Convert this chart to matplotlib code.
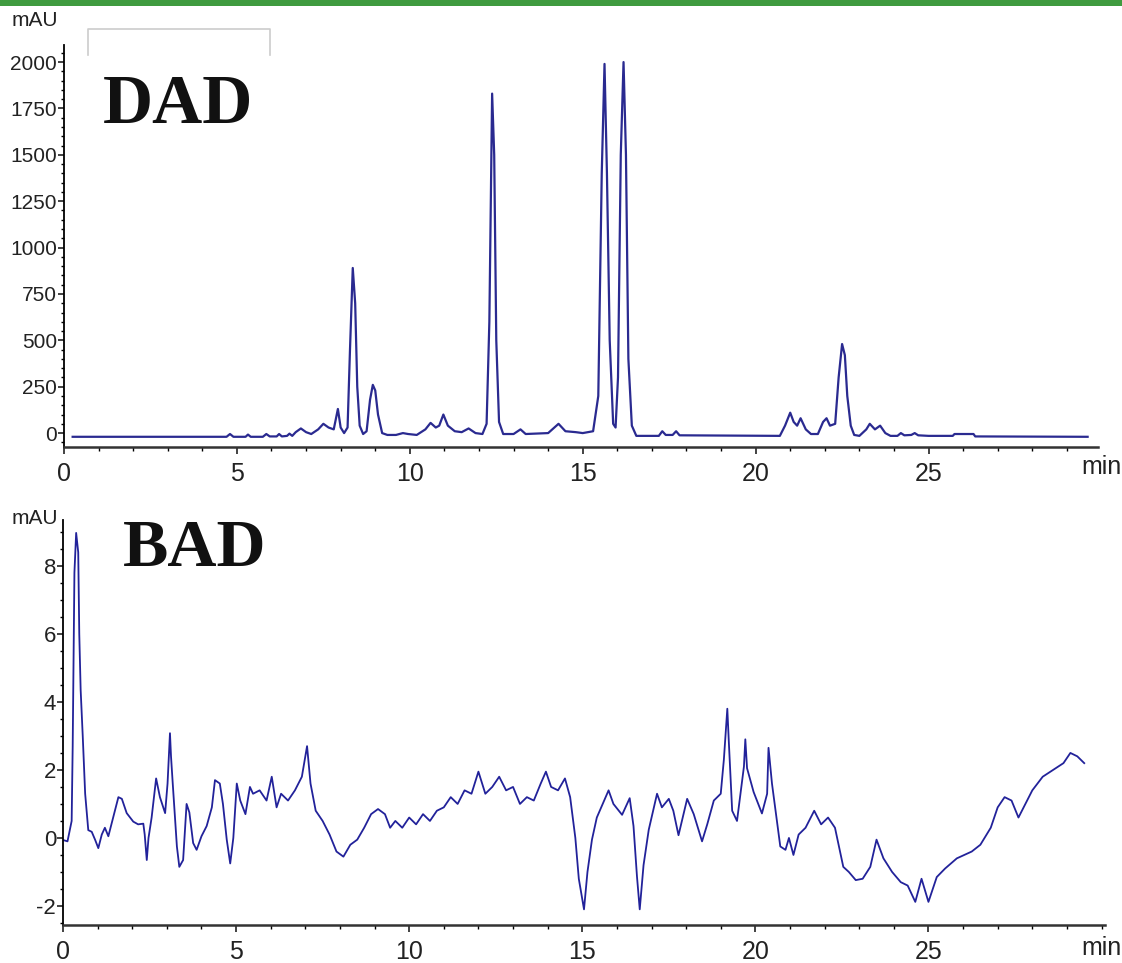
import matplotlib
matplotlib.use("Agg")
from matplotlib import pyplot as plt
from matplotlib.ticker import MultipleLocator, FixedLocator
from matplotlib.patches import Rectangle
from matplotlib.lines import Line2D

# DAD trace (min, mAU)
dad_time = [0.25, 4.7, 4.8, 4.9, 5.25, 5.32, 5.4, 5.75, 5.85, 5.95, 6.15, 6.22, 6.3,
            6.45, 6.52, 6.6, 6.7, 6.85, 7.0, 7.15, 7.35, 7.5, 7.65, 7.8, 7.92, 8.0,
            8.1, 8.2, 8.27, 8.35, 8.42, 8.48, 8.55, 8.65, 8.75, 8.85, 8.93, 9.0,
            9.08, 9.2, 9.35, 9.6, 9.8, 9.95, 10.2, 10.45, 10.6, 10.75, 10.85, 10.97,
            11.1, 11.3, 11.5, 11.7, 11.9, 12.1, 12.22, 12.3, 12.38, 12.44, 12.5,
            12.58, 12.7, 13.0, 13.2, 13.35, 14.0, 14.3, 14.5, 14.8, 15.0, 15.3,
            15.45, 15.55, 15.63, 15.7, 15.78, 15.88, 15.95, 16.02, 16.1, 16.18,
            16.25, 16.32, 16.42, 16.55, 17.2, 17.3, 17.4, 17.6, 17.7, 17.8, 20.7,
            20.85, 21.0, 21.1, 21.2, 21.3, 21.45, 21.6, 21.8, 21.95, 22.05, 22.15,
            22.3, 22.4, 22.5, 22.58, 22.65, 22.75, 22.85, 23.0, 23.2, 23.3, 23.45,
            23.6, 23.75, 23.9, 24.1, 24.2, 24.3, 24.5, 24.6, 24.7, 25.0, 25.7,
            25.75, 26.3, 26.35, 29.6]
dad_mau = [-20, -20, -5, -20, -20, -8, -20, -20, -5, -18, -18, -5, -18,
           -15, -3, -15, 5, 25, 5, -5, 20, 50, 30, 20, 130, 30,
           0, 30, 450, 890, 700, 250, 40, -5, 10, 180, 260, 230,
           100, 0, -10, -10, 0, -5, -10, 20, 55, 30, 40, 100,
           40, 10, 5, 25, 0, -5, 50, 600, 1830, 1500, 500,
           60, -5, -5, 20, -5, 0, 50, 10, 5, 0, 10,
           200, 1400, 1990, 1400, 500, 50, 30, 300, 1500, 2000,
           1500, 400, 40, -15, -15, 10, -10, -10, 10, -12, -15,
           40, 110, 60, 40, 80, 20, -5, -5, 60, 80, 40,
           50, 300, 480, 420, 200, 40, -10, -15, 20, 50, 20,
           40, 0, -15, -15, 0, -12, -10, 0, -12, -15, -15,
           -5, -5, -18, -20]

# BAD trace (min, mAU)
bad_time = [0.0, 0.13, 0.25, 0.28, 0.33, 0.38, 0.44, 0.47, 0.51, 0.57, 0.64, 0.73,
            0.83, 0.93, 1.02, 1.12, 1.21, 1.31, 1.45, 1.6, 1.7, 1.84, 2.03, 2.17,
            2.32, 2.36, 2.42, 2.47, 2.56, 2.69, 2.8, 2.95, 3.02, 3.09, 3.12, 3.17,
            3.29, 3.36, 3.47, 3.57, 3.65, 3.76, 3.86, 4.0, 4.15, 4.3, 4.39, 4.53,
            4.62, 4.73, 4.83, 4.92, 5.02, 5.12, 5.27, 5.4, 5.49, 5.68, 5.88, 6.03,
            6.17, 6.3, 6.5, 6.7, 6.9, 7.05, 7.15, 7.3, 7.5, 7.7, 7.9, 8.1, 8.3,
            8.5, 8.7, 8.9, 9.1, 9.3, 9.45, 9.6, 9.8, 10.0, 10.2, 10.4, 10.6, 10.8,
            11.0, 11.2, 11.4, 11.6, 11.8, 12.0, 12.2, 12.4, 12.6, 12.8, 13.0, 13.2,
            13.4, 13.6, 13.8, 13.95, 14.1, 14.3, 14.5, 14.65, 14.8, 14.9, 15.05,
            15.15, 15.28, 15.42, 15.76, 15.9, 16.15, 16.37, 16.48, 16.58, 16.66,
            16.77, 16.92, 17.16, 17.3, 17.5, 17.63, 17.78, 18.03, 18.22, 18.46,
            18.61, 18.8, 19.0, 19.09, 19.19, 19.23, 19.33, 19.47, 19.57, 19.67,
            19.71, 19.76, 19.95, 20.19, 20.34, 20.38, 20.48, 20.72, 20.87, 20.97,
            21.1, 21.25, 21.45, 21.7, 21.9, 22.1, 22.3, 22.54, 22.7, 22.9, 23.1,
            23.32, 23.5, 23.7, 23.95, 24.2, 24.4, 24.62, 24.8, 25.0, 25.24, 25.48,
            25.82, 26.25, 26.5, 26.8, 27.0, 27.2, 27.4, 27.6, 27.8, 28.0, 28.3,
            28.6, 28.9, 29.1, 29.3, 29.5]
bad_mau = [-0.06, -0.1, 0.5, 2.7, 7.8, 8.97, 8.4, 6.0, 4.35, 3.0, 1.3, 0.23,
           0.18, -0.06, -0.3, 0.1, 0.3, 0.05, 0.6, 1.2, 1.15, 0.73, 0.48, 0.4,
           0.42, 0.1, -0.65, 0.0, 0.6, 1.75, 1.2, 0.73, 1.6, 3.08, 2.4, 1.6,
           -0.25, -0.85, -0.65, 1.0, 0.75, -0.15, -0.35, 0.05, 0.35, 0.9, 1.7, 1.6,
           1.0, -0.05, -0.75, 0.0, 1.6, 1.1, 0.7, 1.5, 1.3, 1.4, 1.1, 1.8,
           0.9, 1.3, 1.1, 1.4, 1.8, 2.7, 1.6, 0.8, 0.5, 0.1, -0.4, -0.55, -0.2,
           -0.05, 0.3, 0.7, 0.85, 0.7, 0.3, 0.5, 0.3, 0.6, 0.4, 0.7, 0.5, 0.8,
           0.9, 1.2, 1.0, 1.4, 1.3, 1.95, 1.3, 1.5, 1.8, 1.4, 1.5, 1.0,
           1.2, 1.1, 1.6, 1.95, 1.5, 1.4, 1.75, 1.2, 0.0, -1.2, -2.1,
           -1.0, -0.05, 0.6, 1.4, 1.0, 0.68, 1.17, 0.35, -1.13, -2.1,
           -0.8, 0.24, 1.3, 0.9, 1.15, 0.8, 0.08, 1.15, 0.7, -0.1,
           0.4, 1.1, 1.3, 2.3, 3.8, 2.9, 0.8, 0.5, 1.3, 2.1,
           2.9, 2.05, 1.35, 0.72, 1.3, 2.65, 1.6, -0.25, -0.35, 0.0,
           -0.5, 0.1, 0.3, 0.8, 0.4, 0.6, 0.3, -0.85, -1.0, -1.24, -1.2,
           -0.85, -0.05, -0.6, -1.0, -1.3, -1.4, -1.88, -1.2, -1.88, -1.15, -0.9,
           -0.6, -0.4, -0.2, 0.3, 0.9, 1.2, 1.1, 0.6, 1.0, 1.4, 1.8,
           2.0, 2.2, 2.5, 2.4, 2.2]

time_ticks = [0, 5, 10, 15, 20, 25]

W, H = 1122, 963
fig = plt.figure(figsize=(W / 100, H / 100), dpi=100)
plt.rcParams['font.family'] = 'Liberation Sans'
plt.rcParams['axes.unicode_minus'] = False

# green band along the top edge
fig.add_artist(Rectangle((0, 1 - 6 / H), 1, 6 / H, transform=fig.transFigure,
                         color='#3f9b3f', lw=0))

ax1 = fig.add_axes([64 / W, 1 - 447 / H, 1034 / W, 402 / H])
ax2 = fig.add_axes([63 / W, 1 - 925 / H, 1042 / W, 405 / H])

ax1.plot(dad_time, dad_mau, color='#2a2a90', lw=1.6)
ax2.plot(bad_time, bad_mau, color='#22229a', lw=1.3)

ax1.set_xlim(0, 29.9)
ax1.set_ylim(-75, 2092)
ax2.set_xlim(0, 30.1)
ax2.set_ylim(-2.56, 9.35)

ax1.yaxis.set_major_locator(MultipleLocator(250))
ax1.yaxis.set_minor_locator(MultipleLocator(50))
ax2.yaxis.set_major_locator(MultipleLocator(2))
ax2.yaxis.set_minor_locator(MultipleLocator(0.5))

for ax, yfs in [(ax1, 15), (ax2, 16)]:
    ax.xaxis.set_major_locator(FixedLocator(time_ticks))
    ax.xaxis.set_minor_locator(MultipleLocator(1))
    for s in ['top', 'right']:
        ax.spines[s].set_visible(False)
    ax.spines['left'].set_linewidth(1.3)
    ax.spines['bottom'].set_linewidth(1.8)
    ax.spines['bottom'].set_color('#333333')
    ax.tick_params(axis='x', which='major', length=5, width=1.2, labelsize=18,
                   pad=6, colors='#222222')
    ax.tick_params(axis='x', which='minor', length=3, width=1)
    ax.tick_params(axis='y', which='major', length=4, width=1.2, labelsize=yfs,
                   pad=1, colors='#222222')
    ax.tick_params(axis='y', which='minor', length=2, width=1)
    ax.patch.set_alpha(0)

# unit labels
fig.text(12 / W, 1 - 20 / H, 'mAU', fontsize=15, va='center', ha='left', color='#222222')
fig.text(12 / W, 1 - 518 / H, 'mAU', fontsize=15, va='center', ha='left', color='#222222')
fig.text(1101 / W, 1 - 467 / H, 'min', fontsize=18, va='center', ha='center', color='#222222')
fig.text(1101 / W, 1 - 948 / H, 'min', fontsize=18, va='center', ha='center', color='#222222')

# faint bracket behind DAD
fig.add_artist(Line2D([88 / W, 88 / W, 270 / W, 270 / W],
                      [1 - 55 / H, 1 - 29 / H, 1 - 29 / H, 1 - 55 / H],
                      transform=fig.transFigure, color='#cccccc', lw=1.2))

fig.text(178 / W, 1 - 123 / H, 'DAD', fontsize=50, fontweight='bold',
         family='Liberation Serif', ha='center', va='baseline', color='#111111')
fig.text(195 / W, 1 - 566 / H, 'BAD', fontsize=49, fontweight='bold',
         family='Liberation Serif', ha='center', va='baseline', color='#111111')

fig.savefig('out.png', dpi=100)
